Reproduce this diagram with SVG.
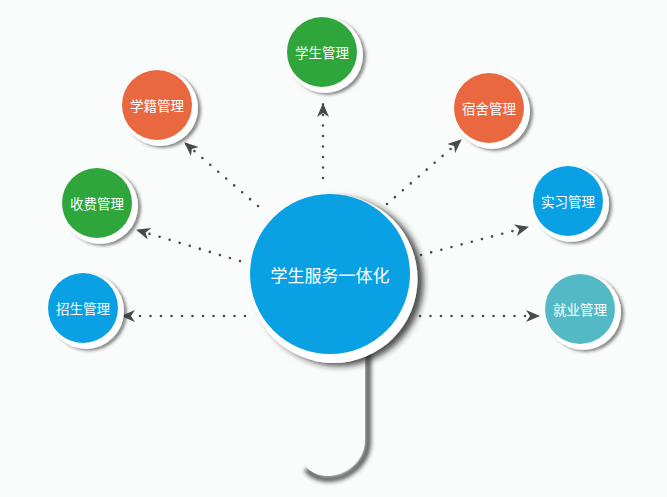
<svg xmlns="http://www.w3.org/2000/svg" width="667" height="497" viewBox="0 0 667 497">
<defs>
<style>
.lbl{font-family:"Noto Sans CJK SC","Noto Sans",sans-serif;fill:#fff;text-anchor:middle;dominant-baseline:central}
.small{font-size:13.5px}
.big{font-size:17px}
.ring{fill:#fff;filter:url(#sh)}
.dot{fill:none;stroke:#4a4a4a;stroke-width:2.6;stroke-linecap:round;stroke-dasharray:0 10.5;marker-end:url(#ah)}
</style>
<filter id="sh" x="-30%" y="-30%" width="170%" height="170%">
<feDropShadow dx="3" dy="2" stdDeviation="1.5" flood-color="#333" flood-opacity="0.55"/>
</filter>
<filter id="bigsh" x="-30%" y="-30%" width="170%" height="170%">
<feDropShadow dx="6" dy="3" stdDeviation="3" flood-color="#222" flood-opacity="0.8"/>
</filter>
<filter id="blur" x="-50%" y="-50%" width="200%" height="200%">
<feGaussianBlur stdDeviation="2"/>
</filter>
<marker id="ah" viewBox="0 0 14 12" refX="13" refY="6" markerWidth="14" markerHeight="12" markerUnits="userSpaceOnUse" orient="auto">
<path d="M0,0 L14,6 L0,12 L4,6 Z" fill="#4a4a4a"/>
</marker>
</defs>
<rect width="667" height="497" fill="#fafcfc"/>

<g id="connectors">
<line class="dot" x1="245" y1="316" x2="122" y2="316"/>
<line class="dot" x1="240" y1="261" x2="137" y2="230"/>
<line class="dot" x1="258" y1="206" x2="185" y2="143"/>
<line class="dot" x1="323" y1="178" x2="323" y2="104"/>
<line class="dot" x1="387" y1="204" x2="461" y2="140"/>
<line class="dot" x1="421" y1="255" x2="528" y2="227"/>
<line class="dot" x1="420" y1="316" x2="539" y2="316"/>
</g>

<g id="center">
<path d="M368 350 L368 441 C368 464 347 479 329 479 C319 479 312 475 308 471" fill="none" stroke="#333" stroke-width="6" stroke-linecap="round" opacity="0.8" filter="url(#blur)"/>
<path d="M335 330 L365 330 L365 440 C365 462 345 476 328 476 C318 476 311 472 306 467 L335 400 Z" fill="#fafcfc"/>
<circle cx="333.5" cy="279" r="84" fill="#fff" filter="url(#bigsh)"/>
<circle cx="330" cy="274" r="80" fill="#0aa0e4"/>
<text class="lbl big" x="330" y="274">学生服务一体化</text>
</g>

<g id="n-xuesheng">
<circle class="ring" cx="325" cy="55" r="38"/>
<circle cx="322" cy="52" r="35" fill="#2ea63b"/>
<text class="lbl small" x="322" y="52">学生管理</text>
</g>
<g id="n-xueji">
<circle class="ring" cx="160" cy="108" r="38"/>
<circle cx="157" cy="105" r="35" fill="#e9683f"/>
<text class="lbl small" x="157" y="105">学籍管理</text>
</g>
<g id="n-shoufei">
<circle class="ring" cx="100" cy="206" r="38"/>
<circle cx="97" cy="203" r="35" fill="#2ea63b"/>
<text class="lbl small" x="97" y="203">收费管理</text>
</g>
<g id="n-zhaosheng">
<circle class="ring" cx="86" cy="311" r="38"/>
<circle cx="83" cy="308" r="35" fill="#0aa0e4"/>
<text class="lbl small" x="83" y="308">招生管理</text>
</g>
<g id="n-sushe">
<circle class="ring" cx="492" cy="111" r="38"/>
<circle cx="489" cy="108" r="35" fill="#e9683f"/>
<text class="lbl small" x="489" y="108">宿舍管理</text>
</g>
<g id="n-shixi">
<circle class="ring" cx="571" cy="204" r="38"/>
<circle cx="568" cy="201" r="35" fill="#0aa0e4"/>
<text class="lbl small" x="568" y="201">实习管理</text>
</g>
<g id="n-jiuye">
<circle class="ring" cx="583" cy="312" r="38"/>
<circle cx="580" cy="309" r="35" fill="#53b9c5"/>
<text class="lbl small" x="580" y="309">就业管理</text>
</g>
</svg>
